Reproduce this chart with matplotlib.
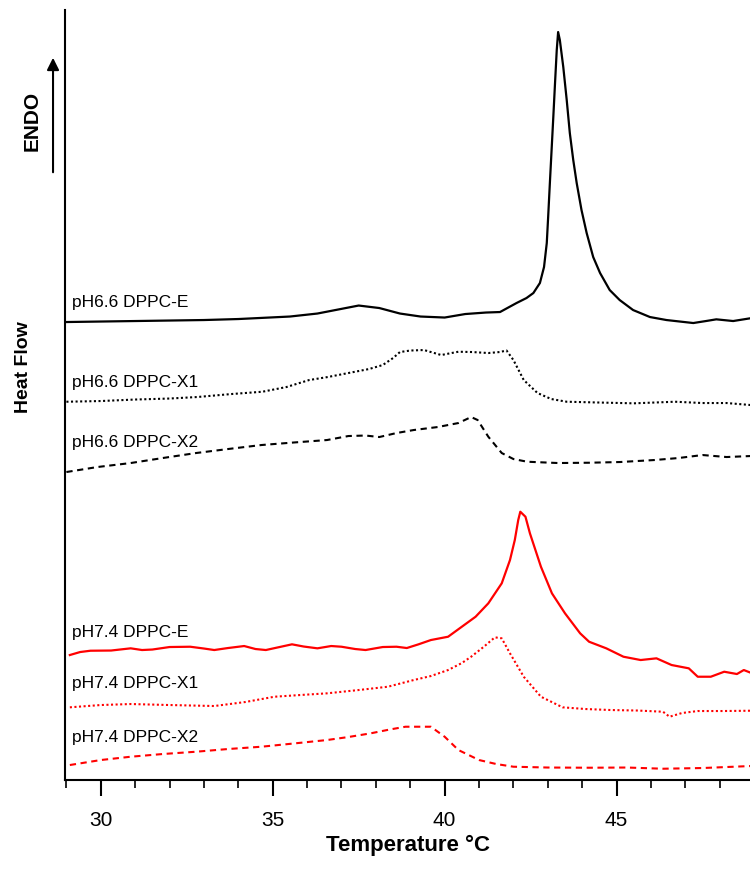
import matplotlib
matplotlib.use("Agg")
import matplotlib.pyplot as plt
from matplotlib.ticker import MultipleLocator

plt.rcParams['font.family'] = ['Liberation Sans', 'DejaVu Sans']

# DSC thermograms, stacked heat flow (arbitrary units) vs temperature
t_66_e = [29.0, 30.0, 31.0, 32.0, 33.0, 34.0, 34.6, 35.5, 36.3, 36.9, 37.5, 38.1, 38.7, 39.3,
          40.0, 40.6, 41.2, 41.61, 42.09, 42.38, 42.58, 42.77, 42.89, 42.97, 43.01, 43.06,
          43.11, 43.16, 43.21, 43.26, 43.30, 43.35, 43.45, 43.55, 43.64, 43.74, 43.84, 43.98,
          44.13, 44.32, 44.52, 44.8, 45.09, 45.48, 45.97, 46.45, 47.23, 47.6, 47.9, 48.39, 48.88]
hf_66_e = [45.8, 45.85, 45.9, 45.95, 46.0, 46.1, 46.2, 46.35, 46.65, 47.05, 47.45, 47.2, 46.65,
           46.35, 46.25, 46.6, 46.75, 46.8, 47.7, 48.2, 48.7, 49.7, 51.3, 53.7, 56.3, 59.7,
           63.0, 66.3, 69.7, 73.0, 74.8, 74.0, 71.3, 68.0, 64.7, 62.0, 59.7, 57.0,
           54.7, 52.3, 50.7, 49.0, 48.0, 47.0, 46.3, 46.0, 45.7, 45.9, 46.07, 45.9, 46.17]

t_66_x1 = [29.0, 30.0, 31.0, 32.0, 32.8, 33.8, 34.7, 35.4, 36.06, 36.6, 37.2, 37.8, 38.2, 38.5,
           38.7, 39.0, 39.4, 39.7, 39.9, 40.2, 40.4, 40.8, 41.27, 41.6, 41.8, 42.0, 42.3, 42.7,
           43.1, 43.55, 44.5, 45.5, 46.7, 47.5, 48.2, 48.9]
hf_66_x1 = [37.83, 37.9, 38.05, 38.15, 38.3, 38.6, 38.83, 39.3, 40.0, 40.3, 40.7, 41.1, 41.5,
            42.2, 42.8, 42.95, 43.0, 42.7, 42.5, 42.7, 42.83, 42.8, 42.7, 42.8, 42.95, 42.0,
            40.0, 38.7, 38.1, 37.83, 37.75, 37.67, 37.83, 37.7, 37.7, 37.5]

t_66_x2 = [29.0, 29.9, 30.87, 31.8, 32.77, 33.7, 34.67, 35.6, 36.58, 37.2, 37.7, 38.1, 38.6,
           39.1, 39.8, 40.4, 40.77, 40.96, 41.27, 41.66, 42.0, 42.4, 43.3, 44.2, 45.1, 46.1,
           46.8, 47.5, 48.2, 48.9]
hf_66_x2 = [30.8, 31.3, 31.7, 32.2, 32.7, 33.1, 33.5, 33.75, 34.0, 34.4, 34.45, 34.3, 34.7,
            35.0, 35.3, 35.7, 36.3, 36.0, 34.33, 32.7, 32.1, 31.83, 31.7, 31.73, 31.8, 32.0,
            32.2, 32.5, 32.3, 32.4]

t_74_e = [29.1, 29.4, 29.7, 30.3, 30.87, 31.2, 31.5, 32.0, 32.6, 33.0, 33.3, 33.7, 34.17, 34.5,
          34.8, 35.2, 35.56, 35.9, 36.3, 36.7, 37.0, 37.4, 37.7, 38.2, 38.6, 38.9, 39.24, 39.6,
          40.1, 40.5, 40.9, 41.27, 41.66, 41.9, 42.04, 42.14, 42.2, 42.35, 42.48, 42.8, 43.12,
          43.5, 43.94, 44.2, 44.7, 45.2, 45.7, 46.16, 46.6, 47.1, 47.36, 47.74, 48.13, 48.5,
          48.7, 48.9]
hf_74_e = [12.5, 12.8, 12.93, 12.95, 13.17, 13.0, 13.05, 13.3, 13.33, 13.15, 13.0, 13.2, 13.4,
           13.1, 13.0, 13.3, 13.57, 13.35, 13.17, 13.4, 13.33, 13.1, 13.0, 13.3, 13.33, 13.2,
           13.57, 14.0, 14.33, 15.33, 16.33, 17.67, 19.67, 22.0, 24.0, 26.0, 26.83, 26.33,
           24.67, 21.33, 18.67, 16.67, 14.67, 13.83, 13.17, 12.33, 12.0, 12.17, 11.5, 11.17,
           10.33, 10.33, 10.83, 10.6, 11.0, 10.73]

t_74_x1 = [29.1, 30.0, 30.87, 32.0, 33.3, 34.2, 35.05, 35.8, 36.58, 37.5, 38.35, 39.1, 39.6,
           40.1, 40.5, 40.77, 41.14, 41.46, 41.66, 41.9, 42.3, 42.8, 43.43, 44.1, 44.83, 45.6,
           46.35, 46.54, 46.9, 47.36, 48.1, 48.9]
hf_74_x1 = [7.27, 7.5, 7.6, 7.5, 7.4, 7.8, 8.33, 8.5, 8.67, 9.0, 9.33, 10.0, 10.4, 11.0, 11.7,
            12.33, 13.33, 14.27, 14.17, 12.67, 10.33, 8.33, 7.27, 7.1, 7.0, 6.95, 6.83, 6.33,
            6.7, 6.9, 6.9, 6.93]

t_74_x2 = [29.1, 30.0, 30.87, 31.8, 32.77, 33.7, 34.67, 35.6, 36.58, 37.2, 37.85, 38.4, 38.86,
           39.3, 39.6, 40.0, 40.4, 41.0, 41.5, 42.0, 43.0, 44.2, 45.3, 46.35, 47.5, 48.9]
hf_74_x2 = [1.5, 2.0, 2.33, 2.6, 2.83, 3.1, 3.33, 3.65, 4.0, 4.3, 4.67, 5.05, 5.33, 5.33, 5.33,
            4.33, 3.0, 2.0, 1.6, 1.33, 1.25, 1.23, 1.25, 1.13, 1.2, 1.4]

labels = ["pH6.6 DPPC-E", "pH6.6 DPPC-X1", "pH6.6 DPPC-X2",
          "pH7.4 DPPC-E", "pH7.4 DPPC-X1", "pH7.4 DPPC-X2"]
label_y = [47.3, 39.33, 33.33, 14.33, 9.2, 3.83]

fig = plt.figure(figsize=(7.5, 8.73), dpi=100)
ax = fig.add_axes([0.0867, 0.1065, 0.9133, 0.882])

dot = (0, (1, 1.2))
dash = (0, (3, 2.2))
ax.plot(t_66_e, hf_66_e, color='black', lw=1.6)
ax.plot(t_66_x1, hf_66_x1, color='black', lw=1.5, ls=dot)
ax.plot(t_66_x2, hf_66_x2, color='black', lw=1.5, ls=dash)
ax.plot(t_74_e, hf_74_e, color='red', lw=1.6)
ax.plot(t_74_x1, hf_74_x1, color='red', lw=1.5, ls=dot)
ax.plot(t_74_x2, hf_74_x2, color='red', lw=1.5, ls=dash)

for lab, y in zip(labels, label_y):
    ax.text(29.15, y, lab, fontsize=12.5, va='baseline', ha='left', color='black')

ax.set_xlim(28.96, 48.88)
ax.set_ylim(0, 77)
ax.spines['top'].set_visible(False)
ax.spines['right'].set_visible(False)
ax.spines['left'].set_linewidth(1.5)
ax.spines['bottom'].set_linewidth(1.5)
ax.set_yticks([])
ax.xaxis.set_major_locator(MultipleLocator(5))
ax.xaxis.set_minor_locator(MultipleLocator(1))
ax.tick_params(axis='x', which='major', length=11.5, width=1.5, labelsize=15, pad=11)
ax.tick_params(axis='x', which='minor', length=5.8, width=1.2)
ax.set_xlabel("Temperature °C", fontsize=16, fontweight='bold', labelpad=3)

fig.text(0.032, 0.5796, "Heat Flow", rotation=90, fontsize=14, fontweight='bold',
         ha='center', va='center')
fig.text(0.0427, 0.861, "ENDO", rotation=90, fontsize=15, fontweight='bold',
         ha='center', va='center')
fig.patches.append(matplotlib.patches.FancyArrowPatch(
    (0.0707, 0.7995), (0.0707, 0.937), transform=fig.transFigure,
    arrowstyle='-|>', mutation_scale=18, lw=1.5, color='black'))

fig.savefig("out.png", dpi=100)
